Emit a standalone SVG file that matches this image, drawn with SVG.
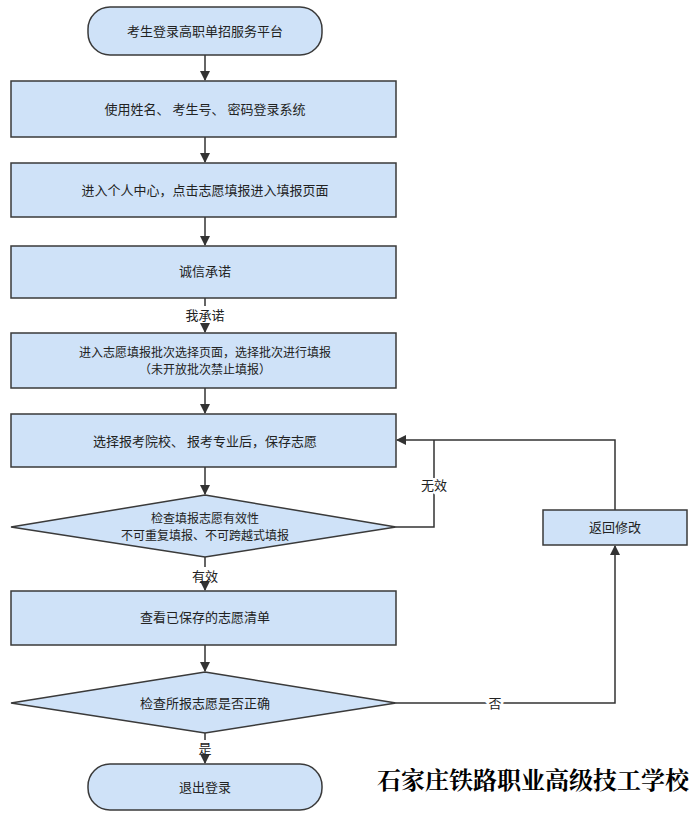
<svg xmlns="http://www.w3.org/2000/svg" width="700" height="817" viewBox="0 0 700 817">
<style>
.n{fill:#cfe2f8;stroke:#3a3a3a;stroke-width:1.5}
.t{font-family:"Noto Sans CJK SC",sans-serif;font-size:13px;fill:#222;text-anchor:middle}
.s{font-family:"Noto Sans CJK SC",sans-serif;font-size:12px;fill:#222;text-anchor:middle}
.l{font-family:"Noto Sans CJK SC",sans-serif;font-size:13px;fill:#222;text-anchor:middle}
.c{fill:none;stroke:#333;stroke-width:1.5}
</style>
<defs><marker id="a" markerWidth="10" markerHeight="10" refX="9" refY="5" orient="auto" markerUnits="userSpaceOnUse"><path d="M0,0L10,5L0,10z" fill="#333"/></marker></defs>
<rect width="700" height="817" fill="#fff"/>
<g id="connectors">
<path class="c" d="M205,55V80" marker-end="url(#a)"/>
<path class="c" d="M205,137V162" marker-end="url(#a)"/>
<path class="c" d="M205,217V245" marker-end="url(#a)"/>
<path class="c" d="M205,298V306M205,325V332" marker-end="url(#a)"/>
<path class="c" d="M205,388V413" marker-end="url(#a)"/>
<path class="c" d="M205,467V494" marker-end="url(#a)"/>
<path class="c" d="M205,557V567M205,585V590" marker-end="url(#a)"/>
<path class="c" d="M205,645V671" marker-end="url(#a)"/>
<path class="c" d="M205,733V740M205,757V763" marker-end="url(#a)"/>
<path class="c" d="M396,527H434V440" />
<path class="c" d="M615,510V440H397" marker-end="url(#a)"/>
<path class="c" d="M396,703H615V546" marker-end="url(#a)"/>
<text class="l" x="205" y="320">我承诺</text>
<text class="l" x="434" y="490" style="paint-order:stroke;stroke:#fff;stroke-width:4">无效</text>
<text class="l" x="205" y="581">有效</text>
<text class="l" x="495" y="708" style="paint-order:stroke;stroke:#fff;stroke-width:4">否</text>
<text class="l" x="205" y="753">是</text>
</g>
<g id="start"><rect class="n" x="88" y="7" width="234" height="48" rx="22"/><text class="t" x="205" y="36">考生登录高职单招服务平台</text></g>
<g id="b1"><rect class="n" x="11" y="81" width="385" height="56"/><text class="t" x="205" y="114">使用姓名、 考生号、 密码登录系统</text></g>
<g id="b2"><rect class="n" x="11" y="163" width="385" height="54"/><text class="t" x="205" y="195">进入个人中心，点击志愿填报进入填报页面</text></g>
<g id="b3"><rect class="n" x="11" y="246" width="385" height="52"/><text class="t" x="205" y="276">诚信承诺</text></g>
<g id="b4"><rect class="n" x="11" y="333" width="385" height="55"/><text class="s" x="205" y="357">进入志愿填报批次选择页面，选择批次进行填报</text><text class="s" x="205" y="374">（未开放批次禁止填报）</text></g>
<g id="b5"><rect class="n" x="11" y="414" width="385" height="53"/><text class="t" x="205" y="446">选择报考院校、 报考专业后，保存志愿</text></g>
<g id="d1"><polygon class="n" points="205,495 396,527 205,557 11,527"/><text class="s" x="205" y="523">检查填报志愿有效性</text><text class="s" x="205" y="540">不可重复填报、不可跨越式填报</text></g>
<g id="b6"><rect class="n" x="11" y="591" width="385" height="54"/><text class="t" x="205" y="622">查看已保存的志愿清单</text></g>
<g id="d2"><polygon class="n" points="205,672 396,703 205,733 11,703"/><text class="t" x="205" y="708">检查所报志愿是否正确</text></g>
<g id="end"><rect class="n" x="88" y="764" width="234" height="46" rx="22"/><text class="t" x="205" y="792">退出登录</text></g>
<g id="ret"><rect class="n" x="543" y="510" width="144" height="35"/><text class="t" x="615" y="532">返回修改</text></g>
<text x="533" y="789" font-family="'Noto Serif CJK SC','Noto Sans CJK SC',serif" font-weight="bold" font-size="24" text-anchor="middle" fill="#000">石家庄铁路职业高级技工学校</text>
</svg>
